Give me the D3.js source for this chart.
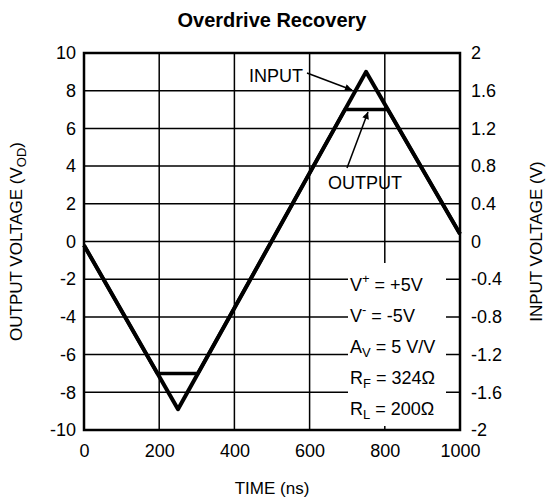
<!DOCTYPE html>
<html>
<head>
<meta charset="utf-8">
<script src="https://cdn.jsdelivr.net/npm/d3@7"></script>
<style>
  body { margin: 0; background: #fff; }
  text { font-family: "Liberation Sans", Arial, Helvetica, sans-serif; fill: #000; }
</style>
</head>
<body>
<svg id="chart"></svg>
<script>
// time axis (ns) and the two traces
var timeNs = [0, 250, 750, 1000];
var inputV = [-0.2, -8.9, 9.0, 0.4];
var outTime = [0, 195, 303, 694, 808, 1000];
var outputV = [-0.2, -7, -7, 7, 7, 0.4];

var xTicks = [0, 200, 400, 600, 800, 1000];
var yTicks = [-10, -8, -6, -4, -2, 0, 2, 4, 6, 8, 10];
var rightTicks = [-2, -1.6, -1.2, -0.8, -0.4, 0, 0.4, 0.8, 1.2, 1.6, 2];
var rightLabels = ["-2", "-1.6", "-1.2", "-0.8", "-0.4", "0", "0.4", "0.8", "1.2", "1.6", "2"];

var conditions = [
  { main: "V", sup: "+", sub: null, rest: " = +5V" },
  { main: "V", sup: "-", sub: null, rest: " = -5V" },
  { main: "A", sup: null, sub: "V", rest: " = 5 V/V" },
  { main: "R", sup: null, sub: "F", rest: " = 324\u03A9" },
  { main: "R", sup: null, sub: "L", rest: " = 200\u03A9" }
];

var W = 547, H = 502;
var margin = { top: 53, right: 87, bottom: 72, left: 84 },
  width = W - margin.left - margin.right,
  height = H - margin.top - margin.bottom;

var svg = d3.select("#chart")
  .attr("width", W)
  .attr("height", H);

var defs = svg.append("defs");
defs.append("marker")
  .attr("id", "arrow")
  .attr("viewBox", "0 0 10 10")
  .attr("refX", 10)
  .attr("refY", 5)
  .attr("markerWidth", 10)
  .attr("markerHeight", 7)
  .attr("markerUnits", "userSpaceOnUse")
  .attr("orient", "auto")
  .append("path")
  .attr("d", "M0,0 L10,5 L0,10 Z")
  .attr("fill", "#000");

var g = svg.append("g")
  .attr("transform", "translate(" + margin.left + "," + margin.top + ")");

var x = d3.scaleLinear().domain([0, 1000]).range([0, width]);
var y = d3.scaleLinear().domain([-10, 10]).range([height, 0]);
var yR = d3.scaleLinear().domain([-2, 2]).range([height, 0]);

// grid
g.append("g").selectAll("line")
  .data(xTicks.slice(1, -1))
  .enter().append("line")
  .attr("x1", function (d) { return x(d); })
  .attr("x2", function (d) { return x(d); })
  .attr("y1", 0).attr("y2", height)
  .attr("stroke", "#000").attr("stroke-width", 1.5);

g.append("g").selectAll("line")
  .data(yTicks.slice(1, -1))
  .enter().append("line")
  .attr("x1", 0).attr("x2", width)
  .attr("y1", function (d) { return y(d); })
  .attr("y2", function (d) { return y(d); })
  .attr("stroke", "#000").attr("stroke-width", 1.5);

// axes (labels only, frame drawn separately)
var plain = function (d) { return String(d); };
var axB = g.append("g")
  .attr("transform", "translate(0," + height + ")")
  .call(d3.axisBottom(x).tickValues(xTicks).tickSize(0).tickPadding(14).tickFormat(plain));
var axL = g.append("g")
  .call(d3.axisLeft(y).tickValues(yTicks).tickSize(0).tickPadding(8).tickFormat(plain));
var axR = g.append("g")
  .attr("transform", "translate(" + width + ",0)")
  .call(d3.axisRight(yR).tickValues(rightTicks).tickSize(0).tickPadding(11)
    .tickFormat(function (d, i) { return rightLabels[i]; }));

[axB, axL, axR].forEach(function (a) {
  a.select(".domain").remove();
  a.selectAll("text").style("font-size", "18px").attr("fill", "#000");
});

// condition box (white patch over the grid)
var condTop = 263;
g.append("rect")
  .attr("x", 348 - margin.left)
  .attr("y", condTop - margin.top)
  .attr("width", 98)
  .attr("height", 163)
  .attr("fill", "#fff");

var condG = g.append("g");
conditions.forEach(function (c, i) {
  var t = condG.append("text")
    .attr("x", 350 - margin.left)
    .attr("y", 291 - margin.top + i * 31)
    .style("font-size", "18px");
  t.append("tspan").text(c.main);
  if (c.sup) {
    t.append("tspan").attr("dy", -8).style("font-size", "13px").text(c.sup);
    t.append("tspan").attr("dy", 8).text(c.rest);
  } else {
    t.append("tspan").attr("dy", 4).style("font-size", "13px").text(c.sub);
    t.append("tspan").attr("dy", -4).text(c.rest);
  }
});

// frame
g.append("rect")
  .attr("width", width).attr("height", height)
  .attr("fill", "none").attr("stroke", "#000").attr("stroke-width", 2.5);

// traces
var lineIn = d3.line()
  .x(function (d, i) { return x(timeNs[i]); })
  .y(function (d) { return y(d); });
var lineOut = d3.line()
  .x(function (d, i) { return x(outTime[i]); })
  .y(function (d) { return y(d); });

g.append("path")
  .attr("d", lineIn(inputV))
  .attr("fill", "none").attr("stroke", "#000")
  .attr("stroke-width", 4).attr("stroke-linejoin", "round");

g.append("path")
  .attr("d", lineOut(outputV))
  .attr("fill", "none").attr("stroke", "#000")
  .attr("stroke-width", 3.5).attr("stroke-linejoin", "round");

// annotations
g.append("text")
  .attr("x", 249 - margin.left).attr("y", 82 - margin.top)
  .style("font-size", "18px").text("INPUT");
g.append("line")
  .attr("x1", 307 - margin.left).attr("y1", 73 - margin.top)
  .attr("x2", 352 - margin.left).attr("y2", 90 - margin.top)
  .attr("stroke", "#000").attr("stroke-width", 1.5)
  .attr("marker-end", "url(#arrow)");

g.append("text")
  .attr("x", 328 - margin.left).attr("y", 189 - margin.top)
  .style("font-size", "18px").text("OUTPUT");
g.append("line")
  .attr("x1", 347 - margin.left).attr("y1", 168 - margin.top)
  .attr("x2", 368 - margin.left).attr("y2", 112 - margin.top)
  .attr("stroke", "#000").attr("stroke-width", 1.5)
  .attr("marker-end", "url(#arrow)");

// titles
svg.append("text")
  .attr("x", margin.left + width / 2).attr("y", 27)
  .attr("text-anchor", "middle")
  .style("font-size", "20px").style("font-weight", "bold")
  .text("Overdrive Recovery");

svg.append("text")
  .attr("x", margin.left + width / 2).attr("y", 494)
  .attr("text-anchor", "middle")
  .style("font-size", "17px")
  .text("TIME (ns)");

var yl = svg.append("text")
  .attr("transform", "translate(22," + (margin.top + height / 2) + ") rotate(-90)")
  .attr("text-anchor", "middle")
  .style("font-size", "17px");
yl.append("tspan").text("OUTPUT VOLTAGE (V");
yl.append("tspan").attr("dy", 4).style("font-size", "13px").text("OD");
yl.append("tspan").attr("dy", -4).text(")");

svg.append("text")
  .attr("transform", "translate(542," + (margin.top + height / 2) + ") rotate(-90)")
  .attr("text-anchor", "middle")
  .style("font-size", "17px")
  .text("INPUT VOLTAGE (V)");
</script>
</body>
</html>
